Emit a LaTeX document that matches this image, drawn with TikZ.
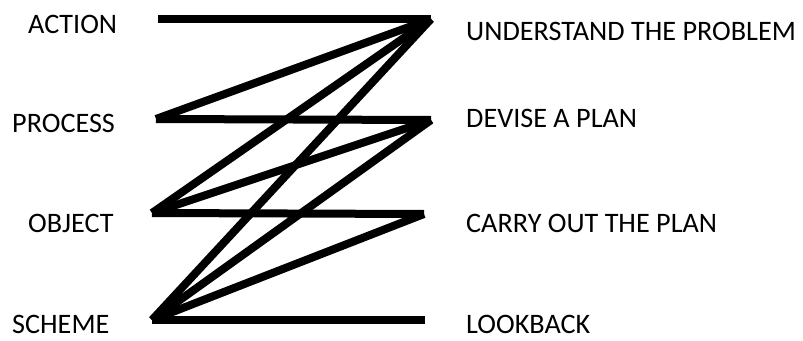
\documentclass[tikz,border=0pt]{standalone}
\usepackage{fontspec}
\setmainfont{Carlito}
\begin{document}
\begin{tikzpicture}[x=1pt,y=-1pt,
  lbl/.style={anchor=base west,inner sep=0pt,font=\fontsize{28.2}{30}\selectfont},
  link/.style={line width=8pt,black}]
\useasboundingbox (0,0) rectangle (803,340);
% endpoints
\coordinate (a) at (158,19);
\coordinate (p) at (156,119);
\coordinate (o) at (152,213);
\coordinate (s) at (152,320);
\coordinate (u) at (431,19);
\coordinate (d) at (431,120);
\coordinate (c) at (424,214);
\coordinate (l) at (425,320);
% labels
\node[lbl] (la) at (28,33) {ACTION};
\node[lbl] (lp) at (12,132) {PROCESS};
\node[lbl] (lo) at (28,232) {OBJECT};
\node[lbl] (ls) at (12,333) {SCHEME};
\node[lbl] (ru) at (466,40) {UNDERSTAND THE PROBLEM};
\node[lbl] (rd) at (466,127) {DEVISE A PLAN};
\node[lbl] (rc) at (466,232) {CARRY OUT THE PLAN};
\node[lbl] (rl) at (466,333) {LOOKBACK};
% links
\draw[link] (a) -- (u);
\draw[link] (p) -- (u);
\draw[link] (p) -- (d);
\draw[link] (o) -- (u);
\draw[link] (o) -- (d);
\draw[link] (o) -- (c);
\draw[link] (s) -- (u);
\draw[link] (s) -- (d);
\draw[link] (s) -- (c);
\draw[link] (s) -- (l);
\end{tikzpicture}
\end{document}
